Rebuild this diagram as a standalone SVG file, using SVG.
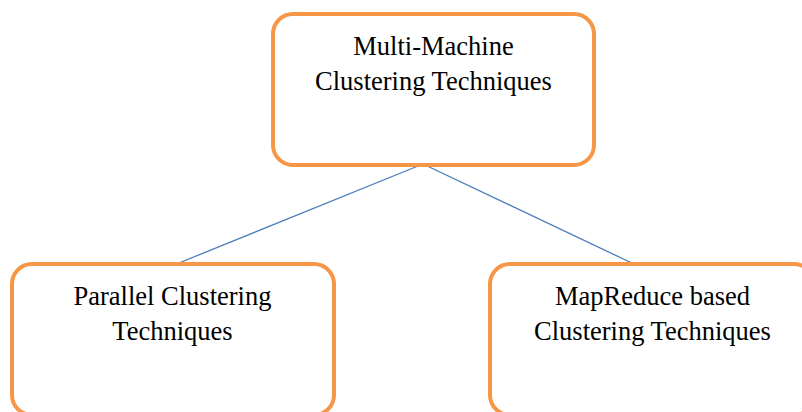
<svg xmlns="http://www.w3.org/2000/svg" width="802" height="412" viewBox="0 0 802 412">
<style>
.box{fill:#fff;stroke:#F79646;stroke-width:4}
.lbl{font-family:"Liberation Serif","Times New Roman",serif;font-size:26.5px;fill:#000;text-anchor:middle}
.conn{stroke:#4A7EBB;stroke-width:1.3;fill:none}
</style>
<rect width="802" height="412" fill="#fff"/>
<g id="connectors">
<line class="conn" x1="423" y1="164" x2="174" y2="265"/>
<line class="conn" x1="423" y1="164" x2="636" y2="265"/>
</g>
<g id="top">
<rect class="box" x="273" y="14" width="321" height="151" rx="20"/>
<text class="lbl" x="433.5" y="55">Multi-Machine</text>
<text class="lbl" x="433.5" y="90">Clustering Techniques</text>
</g>
<g id="left">
<rect class="box" x="12" y="264" width="322" height="151" rx="20"/>
<text class="lbl" x="172.5" y="305">Parallel Clustering</text>
<text class="lbl" x="172.5" y="340">Techniques</text>
</g>
<g id="right">
<rect class="box" x="490" y="264" width="324" height="151" rx="20"/>
<text class="lbl" x="652.5" y="305">MapReduce based</text>
<text class="lbl" x="652.5" y="340">Clustering Techniques</text>
</g>
</svg>
